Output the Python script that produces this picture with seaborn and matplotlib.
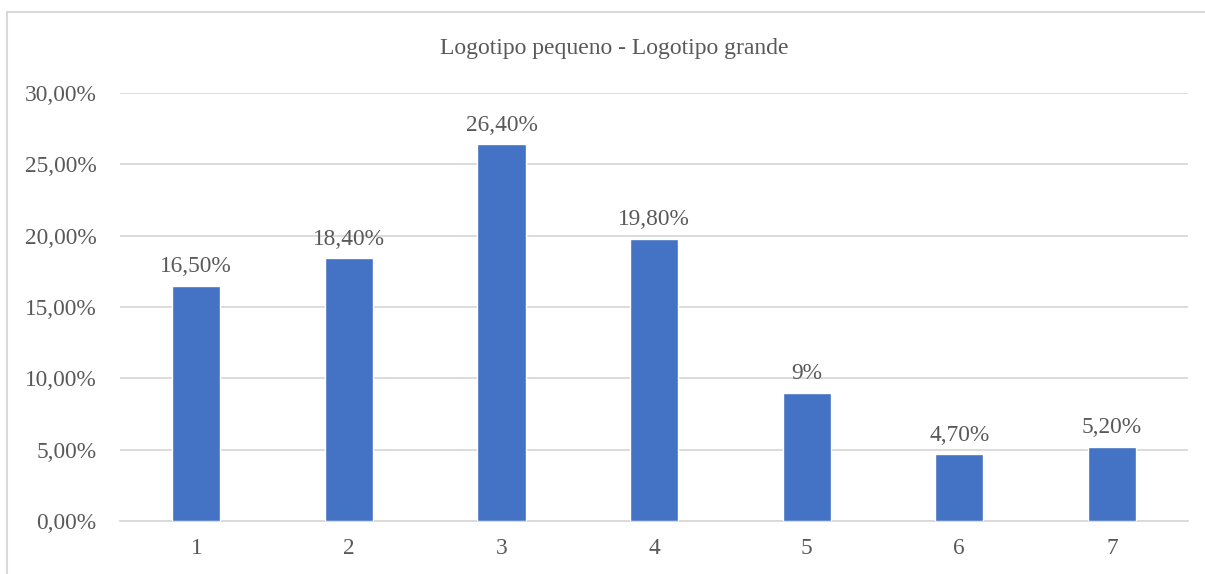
import matplotlib.pyplot as plt
import pandas as pd
import seaborn as sns
from matplotlib.lines import Line2D
from matplotlib.ticker import FuncFormatter

# Data
categories = ['1', '2', '3', '4', '5', '6', '7']
values = [16.5, 18.4, 26.4, 19.8, 9.0, 4.7, 5.2]
labels = ['16,50%', '18,40%', '26,40%', '19,80%', '9%', '4,70%', '5,20%']
title = 'Logotipo pequeno - Logotipo grande'

df = pd.DataFrame({'cat': categories, 'value': [v / 100 for v in values]})

sns.set_style("white")
plt.rcParams['font.family'] = ['Liberation Serif', 'DejaVu Serif']

text_color = '#595959'
grid_color = '#D9D9D9'
bar_color = '#4472C4'

fig = plt.figure(figsize=(12.05, 5.74), dpi=100)
ax = fig.add_axes([0.0996, 0.0923, 0.8864, 0.7457])

sns.barplot(data=df, x='cat', y='value', color=bar_color, width=0.315,
            saturation=1, ax=ax, zorder=3)

ax.set_ylim(0, 0.30)
ax.set_xlim(-0.5, 6.5)
ax.set_yticks([0, 0.05, 0.10, 0.15, 0.20, 0.25, 0.30])
ax.yaxis.set_major_formatter(FuncFormatter(lambda v, p: f'{v * 100:.2f}%'.replace('.', ',')))
ax.grid(axis='y', color=grid_color, linewidth=1.3, zorder=0)
ax.grid(axis='x', visible=False)
for s in ['top', 'right', 'left']:
    ax.spines[s].set_visible(False)
ax.spines['bottom'].set_color(grid_color)
ax.spines['bottom'].set_linewidth(1.3)
ax.tick_params(axis='both', length=0, labelsize=16.8, colors=text_color)
ax.tick_params(axis='y', pad=17)
ax.tick_params(axis='x', pad=12)
ax.set_xlabel('')
ax.set_ylabel('')

for i, (v, lab) in enumerate(zip(values, labels)):
    ax.annotate(lab, (i, v / 100), xytext=(0, 6), textcoords='offset points',
                ha='center', va='bottom', fontsize=16.8, color=text_color)

fig.text(0.5095, 0.916, title, ha='center', va='center', fontsize=17, color=text_color)

# chart border (cropped at right and bottom)
fig.add_artist(Line2D([7 / 1205, 7 / 1205], [0, 1 - 12 / 574], transform=fig.transFigure,
                      color=grid_color, linewidth=1.5))
fig.add_artist(Line2D([7 / 1205, 1], [1 - 12 / 574, 1 - 12 / 574], transform=fig.transFigure,
                      color=grid_color, linewidth=1.5))

fig.savefig('out.png', dpi=100)
